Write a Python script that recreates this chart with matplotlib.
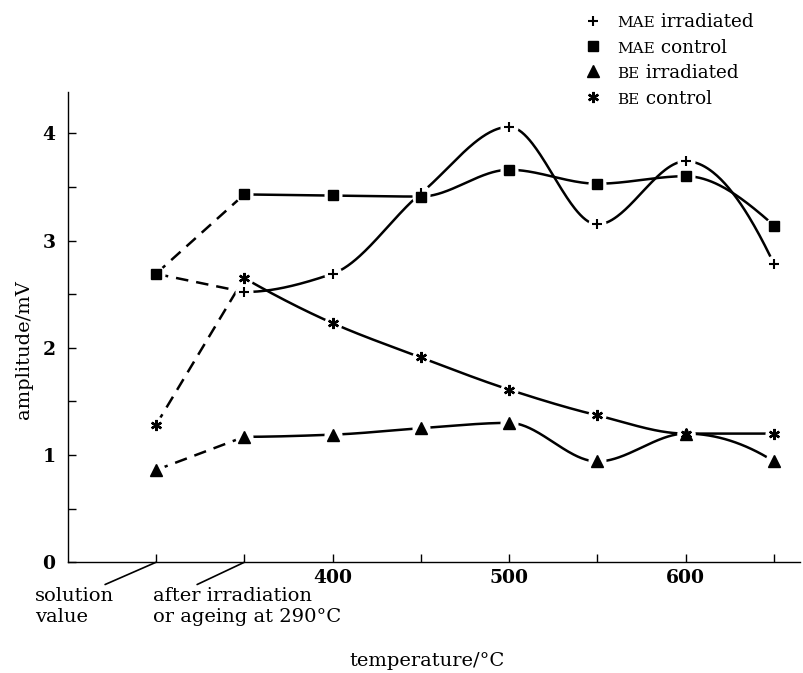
import numpy as np
import matplotlib
matplotlib.use("Agg")
import matplotlib.pyplot as plt
from matplotlib.lines import Line2D
from matplotlib.offsetbox import AnchoredOffsetbox, DrawingArea, HPacker, TextArea, VPacker

plt.rcParams["font.family"] = ["DejaVu Serif"]

# ---------------------------------------------------------------------------
# Data (first point = solution value, second = after irradiation / ageing)
# ---------------------------------------------------------------------------
TEMPS = [300, 350, 400, 450, 500, 550, 600, 650]
MAE_IRR = [2.69, 2.52, 2.69, 3.44, 4.06, 3.15, 3.74, 2.78]   # shares solution value with control
MAE_CTRL = [2.69, 3.43, 3.42, 3.41, 3.66, 3.53, 3.60, 3.14]
BE_IRR = [0.86, 1.17, 1.19, 1.25, 1.30, 0.94, 1.20, 0.94]
BE_CTRL = [1.28, 2.65, 2.23, 1.91, 1.61, 1.37, 1.20, 1.20]

X_TICKS = [300, 350, 400, 450, 500, 550, 600, 650]
X_LABELED = [400, 500, 600]
Y_TICKS = [0.5, 1, 1.5, 2, 2.5, 3, 3.5, 4]
Y_LABELED = [0, 1, 2, 3, 4]

LEGEND_PREFIX = ["MAE", "MAE", "BE", "BE"]
LEGEND_REST = ["irradiated", "control", "irradiated", "control"]

LW = 1.8
DASH = (0, (5, 3.2))
TXT = 14


def pchip(x, y, num=400):
    """Monotone cubic (Fritsch-Carlson) curve through the points."""
    x = np.asarray(x, float)
    y = np.asarray(y, float)
    n = len(x)
    h = np.diff(x)
    delta = np.diff(y) / h
    d = np.zeros(n)
    for k in range(1, n - 1):
        if delta[k - 1] * delta[k] > 0:
            w1 = 2 * h[k] + h[k - 1]
            w2 = h[k] + 2 * h[k - 1]
            d[k] = (w1 + w2) / (w1 / delta[k - 1] + w2 / delta[k])
    for i, (h0, h1, d0, d1) in ((0, (h[0], h[1], delta[0], delta[1])),
                                (n - 1, (h[-1], h[-2], delta[-1], delta[-2]))):
        e = ((2 * h0 + h1) * d0 - h0 * d1) / (h0 + h1)
        if np.sign(e) != np.sign(d0):
            e = 0.0
        elif np.sign(d0) != np.sign(d1) and abs(e) > abs(3 * d0):
            e = 3 * d0
        d[i] = e
    xs = np.linspace(x[0], x[-1], num)
    k = np.clip(np.searchsorted(x, xs) - 1, 0, n - 2)
    t = (xs - x[k]) / h[k]
    h00 = 2 * t ** 3 - 3 * t ** 2 + 1
    h10 = t ** 3 - 2 * t ** 2 + t
    h01 = -2 * t ** 3 + 3 * t ** 2
    h11 = t ** 3 - t ** 2
    ys = h00 * y[k] + h10 * h[k] * d[k] + h01 * y[k + 1] + h11 * h[k] * d[k + 1]
    return xs, ys


# marker style per series, and index of first marker drawn
SERIES = [
    (MAE_IRR, dict(marker="+", ms=7.5, mew=1.5), 1),
    (MAE_CTRL, dict(marker="s", ms=7.5), 0),
    (BE_IRR, dict(marker="^", ms=8.5), 0),
    (BE_CTRL, dict(marker=(6, 2, 0), ms=8, mew=1.7), 0),
]

fig = plt.figure(figsize=(8.04, 6.73), dpi=100)
ax = fig.add_axes([0.0846, 0.1645, 0.9104, 0.6988])

for vals, mk, first in SERIES:
    ax.plot(TEMPS[:2], vals[:2], color="k", lw=LW, ls=DASH, zorder=2)
    xs, ys = pchip(TEMPS[1:], vals[1:])
    ax.plot(xs, ys, color="k", lw=LW, zorder=2)

# white halos so curves stop short of the symbols
for vals, mk, first in SERIES:
    ax.plot(TEMPS[first:], vals[first:], ls="none", marker="o", ms=13,
            mfc="white", mec="none", zorder=3)

for vals, mk, first in SERIES:
    ax.plot(TEMPS[first:], vals[first:], ls="none", color="k", mfc="k", mec="k",
            zorder=4, **mk)

ax.set_xlim(250.2, 664.7)
ax.set_ylim(0, 4.385)
for side in ("top", "right"):
    ax.spines[side].set_visible(False)
for side in ("left", "bottom"):
    ax.spines[side].set_linewidth(1.0)

ax.set_xticks(X_TICKS)
ax.set_xticklabels([str(t) if t in X_LABELED else "" for t in X_TICKS])
ax.set_yticks(Y_LABELED)
ax.set_yticklabels([str(t) for t in Y_LABELED])
ax.set_yticks([t for t in Y_TICKS if t not in Y_LABELED], minor=True)
ax.tick_params(axis="x", direction="in", length=5.5, width=1.0, pad=5,
               labelsize=13.5)
ax.tick_params(axis="y", which="both", direction="in", length=5.5, width=1.0,
               pad=9, labelsize=13.5)
for lab in ax.get_xticklabels() + ax.get_yticklabels():
    lab.set_fontweight("bold")

ax.set_xlabel("temperature/°C", fontsize=TXT)
ax.xaxis.set_label_coords(0.49, -0.19)
ax.set_ylabel("amplitude/mV", fontsize=TXT)
ax.yaxis.set_label_coords(-0.048, 0.452)

# leader labels for the two non-temperature positions
lead = dict(arrowstyle="-", lw=1.2, color="k", shrinkA=0, shrinkB=0)
ax.annotate("solution\nvalue", xy=(TEMPS[0], 0), xytext=(-121, -25),
            textcoords="offset pixels", ha="left", va="top", fontsize=TXT,
            annotation_clip=False, arrowprops=dict(lead, relpos=(0.75, 0.95)))
ax.annotate("after irradiation\nor ageing at 290°C", xy=(TEMPS[1], 0),
            xytext=(-91, -25), textcoords="offset pixels", ha="left", va="top",
            fontsize=TXT, annotation_clip=False,
            arrowprops=dict(lead, relpos=(0.18, 0.95)))

# legend with small-caps prefixes
rows = []
for (vals, mk, first), pre, rest in zip(SERIES, LEGEND_PREFIX, LEGEND_REST):
    da = DrawingArea(21.5, 10, 0, 0)
    da.add_artist(Line2D([3.6], [5], ls="none", color="k", mfc="k", mec="k", **mk))
    row = HPacker(children=[da,
                            TextArea(pre, textprops=dict(fontsize=11)),
                            TextArea(" " + rest, textprops=dict(fontsize=13.2))],
                  align="baseline", pad=0, sep=0)
    rows.append(row)
box = VPacker(children=rows, align="left", pad=0, sep=5.3)
anch = AnchoredOffsetbox(loc="upper left", child=box, pad=0, borderpad=0,
                         frameon=False, bbox_to_anchor=(0.7308, 0.98),
                         bbox_transform=fig.transFigure)
fig.add_artist(anch)

fig.savefig("out.png", dpi=100, facecolor="white")
